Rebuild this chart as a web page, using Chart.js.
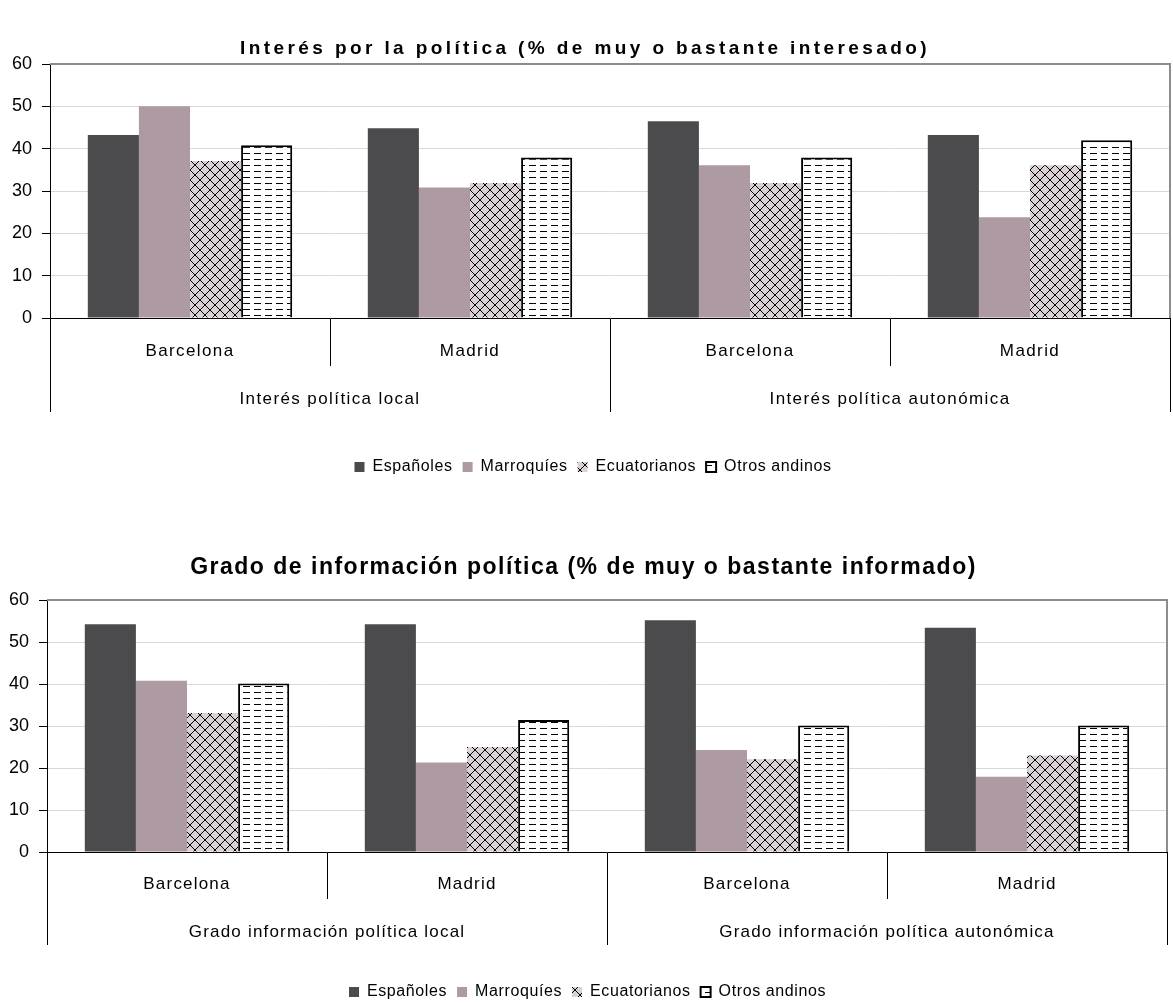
<!DOCTYPE html>
<html><head><meta charset="utf-8">
<script src="https://cdn.jsdelivr.net/npm/chart.js@4.4.1/dist/chart.umd.min.js"></script>
<style>
html,body{margin:0;padding:0;background:#fff;overflow:hidden}
#w1{position:absolute;left:0;top:0;width:1173px;height:485px}
#w2{position:absolute;left:0;top:485px;width:1173px;height:519px}
</style></head><body>
<div id="w1"><canvas id="c1"></canvas></div>
<div id="w2"><canvas id="c2"></canvas></div>
<script>
const cities = ['Barcelona', 'Madrid', 'Barcelona', 'Madrid'];
const groups1 = ['Interés política local', 'Interés política autonómica'];
const groups2 = ['Grado información política local', 'Grado información política autonómica'];
const seriesNames = ['Españoles', 'Marroquíes', 'Ecuatorianos', 'Otros andinos'];
const yTicks = [0, 10, 20, 30, 40, 50, 60];
const title1 = 'Interés por la política (% de muy o bastante interesado)';
const title2 = 'Grado de información política (% de muy o bastante informado)';

const interesEspanoles    = [43.2, 44.8, 46.5, 43.2];
const interesMarroquies   = [50.0, 30.8, 36.1, 23.8];
const interesEcuatorianos = [37.1, 31.9, 31.9, 36.1];
const interesOtrosAndinos = [40.8, 37.9, 37.9, 42.0];

const infoEspanoles    = [54.2, 54.2, 55.2, 53.4];
const infoMarroquies   = [40.8, 21.3, 24.3, 17.9];
const infoEcuatorianos = [33.1, 25.0, 22.1, 23.0];
const infoOtrosAndinos = [40.1, 31.4, 30.1, 30.1];

Chart.defaults.font.family = '"Liberation Sans", Arial, sans-serif';
Chart.defaults.color = '#000';

function hatchPattern() {
  const n = 10;
  const c = document.createElement('canvas');
  c.width = n; c.height = n;
  const g = c.getContext('2d');
  g.fillStyle = '#d9d1d5'; g.fillRect(0, 0, n, n);
  g.strokeStyle = '#000'; g.lineWidth = 1;
  g.beginPath();
  g.moveTo(-1, -1); g.lineTo(n + 1, n + 1);
  g.moveTo(n + 1, -1); g.lineTo(-1, n + 1);
  g.stroke();
  return g.createPattern(c, 'repeat');
}
function dashPattern() {
  const c = document.createElement('canvas');
  c.width = 11; c.height = 6;
  const g = c.getContext('2d');
  g.fillStyle = '#fff'; g.fillRect(0, 0, 11, 6);
  g.fillStyle = '#000'; g.fillRect(1, 3, 7, 1);
  return g.createPattern(c, 'repeat');
}
const colEsp = '#4b4a4d', colMar = '#ae9aa3';
const patEcu = hatchPattern(), patOtr = dashPattern();

// widen text spacing like the original rendering
function patchSpacing(ctx, sp) {
  const desc = Object.getOwnPropertyDescriptor(CanvasRenderingContext2D.prototype, 'font');
  Object.defineProperty(ctx, 'font', {
    configurable: true,
    get() { return desc.get.call(this); },
    set(v) {
      desc.set.call(this, v);
      const m = /(\d+(?:\.\d+)?)px/.exec(v);
      const size = m ? parseFloat(m[1]) : 0;
      let s = 0;
      if (/bold/.test(v)) s = sp.title;
      else if (size === 17) s = sp.x;
      else if (size === 16) s = sp.legend;
      if ('letterSpacing' in this) this.letterSpacing = s + 'px';
    }
  });
}

const frame = {
  id: 'frame',
  afterLayout(chart, args, opts) {
    const lg = chart.legend;
    if (lg && opts.legendShift) { lg.left += opts.legendShift; lg.right += opts.legendShift; }
  },
  afterDatasetsDraw(chart) {
    const { ctx, chartArea: a } = chart;
    ctx.save();
    ctx.strokeStyle = '#8c8c8c'; ctx.lineWidth = 2;
    ctx.beginPath();
    ctx.moveTo(a.left, a.top); ctx.lineTo(a.right, a.top); ctx.lineTo(a.right, a.bottom);
    ctx.stroke();
    ctx.restore();
  }
};

function make(id, series, groups, title, o) {
  const datasets = [
    { label: seriesNames[0], data: series[0], backgroundColor: colEsp, borderWidth: 0 },
    { label: seriesNames[1], data: series[1], backgroundColor: colMar, borderWidth: 0 },
    { label: seriesNames[2], data: series[2], backgroundColor: patEcu, borderWidth: 0 },
    { label: seriesNames[3], data: series[3], backgroundColor: patOtr, borderColor: '#000', borderWidth: 2 }
  ];
  datasets.forEach(d => { d.categoryPercentage = 0.73; d.barPercentage = 1.0; });
  const ctx = document.getElementById(id).getContext('2d');
  patchSpacing(ctx, o.spacing);
  return new Chart(ctx, {
    type: 'bar',
    data: { labels: cities, datasets },
    plugins: [frame],
    options: {
      responsive: true, maintainAspectRatio: false, animation: false, devicePixelRatio: 1,
      layout: { padding: { top: 0, left: 0, right: o.rightPad, bottom: o.bottomPad } },
      plugins: {
        frame: { legendShift: o.legendShift },
        tooltip: { enabled: false },
        title: { display: true, text: title, color: '#000',
          font: { size: o.titleSize, weight: 'bold' },
          padding: { top: o.titleTop, bottom: o.titleBottom } },
        legend: { position: 'bottom',
          labels: { boxWidth: 10, boxHeight: 10, padding: 10, color: '#000', font: { size: 16 } } }
      },
      scales: {
        y: {
          min: 0, max: 60,
          afterBuildTicks: s => { s.ticks = yTicks.map(v => ({ value: v })); },
          grid: { color: '#d9d9d9', tickColor: '#000', tickLength: 8 },
          border: { color: '#000' },
          ticks: { color: '#000', font: { size: 18 }, padding: 10 },
          afterFit: s => { s.width = o.yWidth; }
        },
        x: {
          weight: 0,
          grid: { display: true, drawOnChartArea: false, offset: true, tickLength: o.xHeight, color: '#000', tickColor: '#000' },
          border: { color: '#000' },
          ticks: { color: '#000', font: { size: 17 }, padding: o.xPad, maxRotation: 0, autoSkip: false },
          afterFit: s => { s.height = o.xHeight; }
        },
        x2: {
          type: 'category', labels: groups, position: 'bottom', weight: 1, offset: true,
          grid: { display: true, drawOnChartArea: false, offset: true, tickLength: o.x2Tick, color: '#000', tickColor: '#000' },
          border: { display: false },
          ticks: { color: '#000', font: { size: 17 }, padding: o.x2Pad, maxRotation: 0, autoSkip: false },
          afterFit: s => { s.height = o.x2Height; }
        }
      }
    }
  });
}

make('c1', [interesEspanoles, interesMarroquies, interesEcuatorianos, interesOtrosAndinos], groups1, title1,
  { titleSize: 19, titleTop: 37, titleBottom: 4.2, yWidth: 50, rightPad: 3, bottomPad: 0,
    xHeight: 48, xPad: -25.2, x2Tick: 46, x2Pad: -23.2, x2Height: 83, legendShift: 8,
    spacing: { title: 3.4, x: 1.4, legend: 0.6 } });
make('c2', [infoEspanoles, infoMarroquies, infoEcuatorianos, infoOtrosAndinos], groups2, title2,
  { titleSize: 23, titleTop: 69, titleBottom: 18.4, yWidth: 47, rightPad: 6, bottomPad: -6,
    xHeight: 47, xPad: -25.2, x2Tick: 46, x2Pad: -22.7, x2Height: 75, legendShift: 4,
    spacing: { title: 1.5, x: 1.2, legend: 0.6 } });
</script>
</body></html>
